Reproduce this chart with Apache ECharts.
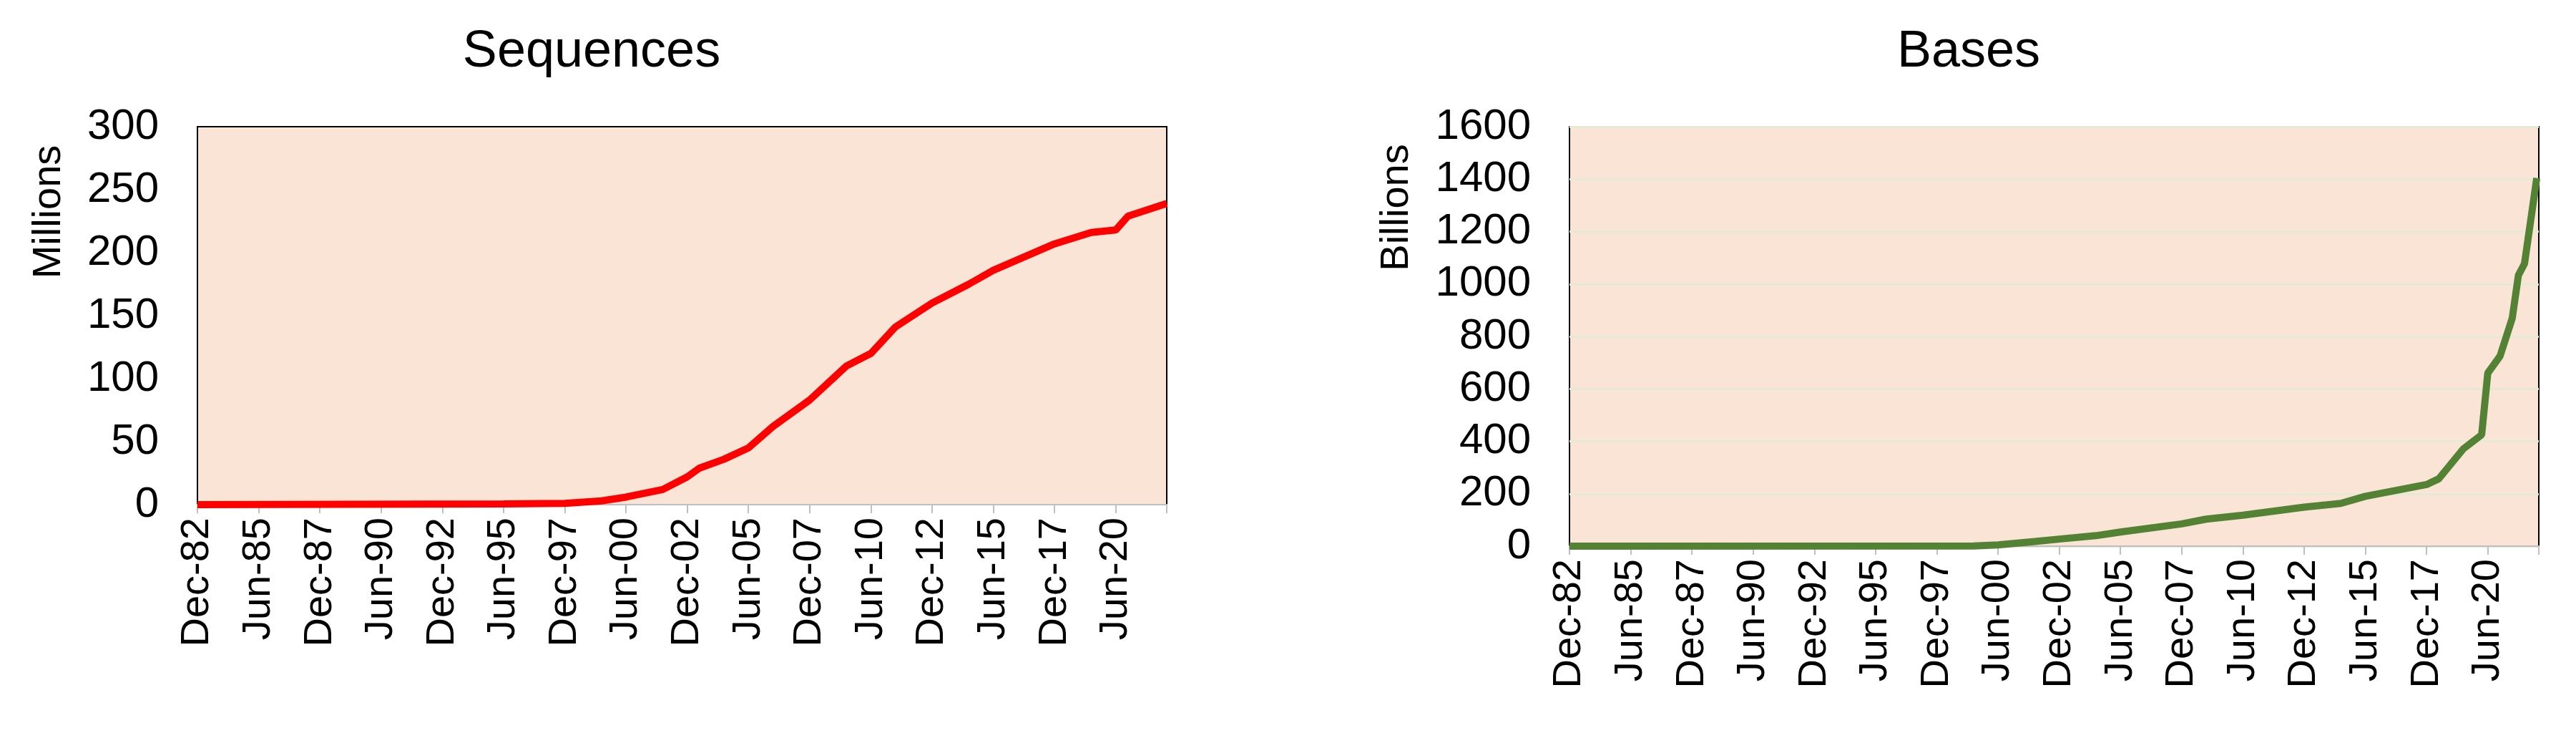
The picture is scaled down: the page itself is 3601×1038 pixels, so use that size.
<!DOCTYPE html>
<html><head><meta charset="utf-8">
<script src="https://cdn.jsdelivr.net/npm/echarts@6/dist/echarts.min.js"></script>
<style>html,body{margin:0;padding:0;background:#fff}#c{width:3601px;height:1038px}</style>
</head><body><div id="c"></div>
<script>
var seqDates = ["1982-12","1995-06","1997-12","1999-06","2000-06","2001-12","2002-12","2003-06","2004-06","2005-06","2006-06","2007-12","2008-12","2009-06","2010-06","2011-06","2012-12","2014-06","2015-06","2017-12","2019-06","2020-06","2020-12","2022-07"];
var seqValues = [0,0.5,1,3,6,12,22,29,36,45,62,83,101,110,120,141,160,175,186,207,216,218,229,239];
var baseDates = ["1982-12","1999-06","2000-06","2001-12","2002-12","2004-06","2005-06","2007-12","2008-12","2010-06","2012-12","2014-06","2015-06","2017-12","2018-06","2019-06","2020-03","2020-06","2020-12","2021-06","2021-09","2021-12","2022-06"];
var baseValues = [0,1,5,18,27,40,54,85,103,118,149,163,190,235,257,371,425,660,725,870,1033,1078,1404];
var MON = ["Jan","Feb","Mar","Apr","May","Jun","Jul","Aug","Sep","Oct","Nov","Dec"];
function idx(s){var p=s.split("-");return (+p[0]-1982)*12+(+p[1]-12);}
function lab(m){var t=1982*12+11+Math.round(m);var y=Math.floor(t/12),mo=t%12;return MON[mo]+"-"+String(y%100).padStart(2,"0");}
function pairs(d,v){return d.map(function(s,i){return [idx(s),v[i]];});}
var XMAX = idx("2022-07");
var F = "Liberation Sans, Arial, sans-serif";
function xAxis(gi){return {type:"value",gridIndex:gi,min:0,max:XMAX,interval:30,
  axisLine:{show:true,lineStyle:{color:"#bfbfbf",width:2}},
  axisTick:{show:true,length:12,lineStyle:{color:"#bfbfbf",width:2}},
  splitLine:{show:false},
  axisLabel:{rotate:90,fontSize:56,fontFamily:F,color:"#000",margin:18,formatter:function(v){return v>=XMAX-5?"":lab(v);}}};}
function yAxis(gi,max,iv,grid){return {type:"value",gridIndex:gi,min:0,max:max,interval:iv,
  axisLine:{show:false},axisTick:{show:false},
  splitLine:{show:grid,lineStyle:{color:"#e4ead4",width:3}},
  axisLabel:{fontSize:60,fontFamily:F,color:"#000",margin:54,formatter:function(v){return String(v);}}};}
var chart = echarts.init(document.getElementById("c"));
chart.setOption({
  animation:false,
  grid:[
    {left:276,top:177,width:1355,height:528,show:true,backgroundColor:"#f9e4d6",borderColor:"#000",borderWidth:2},
    {left:2194,top:177,width:1355,height:586,show:true,backgroundColor:"#f9e4d6",borderColor:"#000",borderWidth:2}
  ],
  xAxis:[xAxis(0),xAxis(1)],
  yAxis:[yAxis(0,300,50,false),yAxis(1,1600,200,true)],
  series:[
    {type:"line",xAxisIndex:0,yAxisIndex:0,data:pairs(seqDates,seqValues),showSymbol:false,lineStyle:{color:"#ff0000",width:10},itemStyle:{color:"#ff0000"}},
    {type:"line",xAxisIndex:1,yAxisIndex:1,data:pairs(baseDates,baseValues),showSymbol:false,lineStyle:{color:"#548235",width:10},itemStyle:{color:"#548235"}}
  ],
  graphic:[
    {type:"text",x:827,y:73,style:{text:"Sequences",font:"72px "+F,fill:"#000",textAlign:"center",textVerticalAlign:"middle"}},
    {type:"text",x:2752,y:73,style:{text:"Bases",font:"72px "+F,fill:"#000",textAlign:"center",textVerticalAlign:"middle"}},
    {type:"text",x:69,y:296,rotation:Math.PI/2,style:{text:"Millions",font:"56px "+F,fill:"#000",textAlign:"center",textVerticalAlign:"middle"}},
    {type:"text",x:1953,y:290,rotation:Math.PI/2,style:{text:"Billions",font:"56px "+F,fill:"#000",textAlign:"center",textVerticalAlign:"middle"}}
  ]
});
</script></body></html>
